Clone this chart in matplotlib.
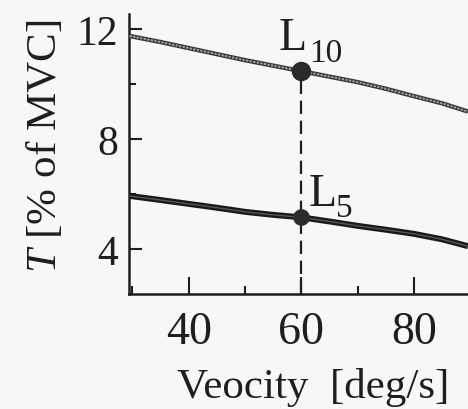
import matplotlib
matplotlib.use("Agg")
import matplotlib.pyplot as plt
from matplotlib.ticker import FixedLocator

plt.rcParams["font.family"] = ["Liberation Serif", "DejaVu Serif"]
plt.rcParams["mathtext.fontset"] = "custom"
plt.rcParams["mathtext.rm"] = "Liberation Serif"
plt.rcParams["mathtext.it"] = "Liberation Serif:italic"

# Torque threshold curves versus angular velocity
velocity = [29.5, 35, 40, 45, 50, 55, 60, 65, 70, 75, 80, 85, 89.6]
t_l10 = [11.75, 11.53, 11.31, 11.09, 10.87, 10.67, 10.47, 10.27, 10.07, 9.83, 9.56, 9.30, 9.00]
t_l5 = [5.93, 5.78, 5.64, 5.50, 5.35, 5.24, 5.15, 5.00, 4.84, 4.70, 4.55, 4.35, 4.10]

# Operating point marked on both curves
v_mark = 60
l10_mark = 10.47
l5_mark = 5.15

x_major = [40, 60, 80]
x_minor = [30, 50, 70, 90]
y_major = [4, 8, 12]
y_minor = [6, 10]

W, H = 468, 410
fig = plt.figure(figsize=(W / 100, H / 100), dpi=100, facecolor="#f7f7f6")
ax = fig.add_axes([129 / W, 1 - 295 / H, (W - 129) / W, 280 / H])
ax.set_facecolor("none")

ax.set_xlim(29.4, 89.6)
ax.set_ylim(2.36, 12.55)

# upper curve: grey hatched-looking stroke
ax.plot(velocity, t_l10, color="#3a3a3a", lw=3.2, solid_capstyle="butt", zorder=3)
ax.plot(velocity, t_l10, color="#a8a8a8", lw=1.3, dashes=(1.2, 0.8),
        solid_capstyle="butt", zorder=4)
# lower curve: heavy dark stroke
ax.plot(velocity, t_l5, color="#1a1a1a", lw=4.3, solid_capstyle="butt", zorder=3)
ax.plot(velocity, t_l5, color="#5a5a5a", lw=0.9, solid_capstyle="butt", zorder=4)

# dashed drop line from the L10 point to the axis
ax.plot([v_mark, v_mark], [ax.get_ylim()[0], l10_mark], color="#1e1e1e",
        lw=1.6, dashes=(6, 3), zorder=2)

ax.plot([v_mark], [l10_mark], "o", color="#2a2a2a", ms=13, zorder=5)
ax.plot([v_mark], [l5_mark], "o", color="#2a2a2a", ms=11, zorder=5)


def level_label(y, main, sub, main_off, sub_off, main_size=33, sub_size=24):
    kw = dict(textcoords="offset pixels", ha="left", va="baseline", color="#1e1e1e")
    ax.annotate(main, xy=(v_mark, y), xytext=main_off, fontsize=main_size, **kw)
    ax.annotate(sub, xy=(v_mark, y), xytext=sub_off, fontsize=sub_size, **kw)


level_label(l10_mark, "L", "10", (-23, 22), (8, 10))
level_label(l5_mark, "L", "5", (7, 12), (35, 1))

for s in ["top", "right"]:
    ax.spines[s].set_visible(False)
for s in ["left", "bottom"]:
    ax.spines[s].set_linewidth(1.8)
    ax.spines[s].set_color("#1e1e1e")

ax.xaxis.set_major_locator(FixedLocator(x_major))
ax.xaxis.set_minor_locator(FixedLocator(x_minor))
ax.yaxis.set_major_locator(FixedLocator(y_major))
ax.yaxis.set_minor_locator(FixedLocator(y_minor))

ax.tick_params(axis="x", which="major", direction="in", length=12, width=1.5,
               pad=12, labelsize=33, colors="#1e1e1e")
ax.tick_params(axis="x", which="minor", direction="in", length=6, width=1.5,
               colors="#1e1e1e")
ax.tick_params(axis="y", which="major", direction="in", length=9, width=1.5,
               pad=8, labelsize=30, colors="#1e1e1e")
ax.tick_params(axis="y", which="minor", direction="in", length=5, width=1.5,
               colors="#1e1e1e")

fig.text(313 / W, 1 - 388 / H, "Veocity  [deg/s]", fontsize=31, ha="center",
         va="center", color="#1e1e1e")
fig.text(45 / W, 1 - 146 / H, r"$T$ [% of MVC]", fontsize=31, ha="center",
         va="center", rotation=90, color="#1e1e1e")

fig.savefig("out.png", dpi=100, facecolor=fig.get_facecolor())
